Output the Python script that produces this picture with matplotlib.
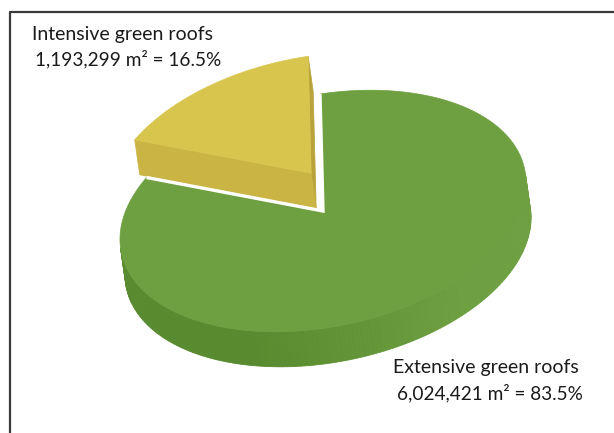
import numpy as np
import matplotlib.pyplot as plt
from matplotlib.patches import Polygon
from matplotlib.colors import to_rgb

# roof areas (m²)
labels = ["Extensive green roofs", "Intensive green roofs"]
areas = [6024421, 1193299]
top_colors = ["#6ea041", "#d8c54e"]
wall_colors = ["#588a2f", "#cab443"]
side_colors = ["#588a2f", "#b9a23a"]

# 3D pie layout (pixels): centre, projected x / y axes of the disk, wall offset
CX, CY = 323, 211
E1 = np.array([203.0, -30.0])
E2 = np.array([-3.0, -117.0])
WALL = np.array([5.0, 35.0])
EXPLODE = [(0.0, 0.0), (0.34 * np.cos(np.radians(99)), 0.34 * np.sin(np.radians(99)))]


def proj(x, y, d):
    p = x * E1 + y * E2 + d * WALL
    return CX + p[0], CY + p[1]


def area2(pts):
    pts = np.asarray(pts)
    x, y = pts[:, 0], pts[:, 1]
    return np.sum(x * np.roll(y, -1) - np.roll(x, -1) * y)


def shade(dark, light, x):
    # walls fade out towards the right hand side
    w = np.clip((x - 250) / 210.0, 0, 1)
    d, l = np.array(to_rgb(dark)), np.array(to_rgb(light))
    return tuple(d * (1 - w) + l * w)


def draw_slice(ax, t0, t1, off, top_c, wall_c, side_c, fade):
    ox, oy = off
    ts = np.linspace(t0, t1, 240)
    top = np.array([proj(ox + np.cos(t), oy + np.sin(t), 0) for t in ts])
    bot = np.array([proj(ox + np.cos(t), oy + np.sin(t), 1) for t in ts])
    c_top = proj(ox, oy, 0)
    c_bot = proj(ox, oy, 1)

    # radial cut faces: the one at t0 faces right, the one at t1 faces front
    for f, c in [([c_top, top[0], bot[0], c_bot], side_c),
                 ([top[-1], c_top, c_bot, bot[-1]], wall_c)]:
        if area2(f) > 0:
            ax.add_patch(Polygon(f, closed=True, fc=c, ec=c, lw=0.5))

    # outer rim wall, segment by segment
    for i in range(len(ts) - 1):
        q = [top[i], top[i + 1], bot[i + 1], bot[i]]
        if area2(q) > 0:
            c = shade(wall_c, top_c, top[i][0]) if fade else wall_c
            ax.add_patch(Polygon(q, closed=True, fc=c, ec=c, lw=0.6))

    ax.add_patch(Polygon(np.vstack([[c_top], top]), closed=True, fc=top_c, ec=top_c, lw=0.5))
    return top, c_top


fig = plt.figure(figsize=(6.14, 4.33), dpi=100)
ax = fig.add_axes([0, 0, 1, 1])
ax.set_xlim(0, 614)
ax.set_ylim(433, 0)
ax.axis("off")

frac = np.array(areas) / np.sum(areas)
# slices run clockwise from 12 o'clock
start = np.pi / 2
spans = []
for k in range(len(areas)):
    end = start - 2 * np.pi * frac[k]
    spans.append([end, start])
    start = end
# keep both spans inside the same turn, angles increasing
spans[0] = [spans[0][0] + 2 * np.pi, spans[0][1] + 2 * np.pi]
spans[1] = [spans[1][0] + 2 * np.pi, spans[1][1] + 2 * np.pi]
spans[1] = [spans[1][0] - 2 * np.pi, spans[1][1] - 2 * np.pi] if spans[1][0] > 2 * np.pi else spans[1]

# back slice first
draw_slice(ax, spans[1][0], spans[1][1], EXPLODE[1], top_colors[1], wall_colors[1], side_colors[1], False)
g_top, g_c = draw_slice(ax, spans[0][0], spans[0][1], EXPLODE[0], top_colors[0], wall_colors[0], side_colors[0], True)

# white border along the cut of the big slice
ax.plot([g_top[0][0], g_c[0], g_top[-1][0]], [g_top[0][1], g_c[1], g_top[-1][1]],
        color="white", lw=2.4, solid_joinstyle="miter", solid_capstyle="butt")

pct = np.round(frac * 100, 1)
name_font = dict(family="Lato", fontsize=14, color="#1a1a1a")
num_font = dict(family="Lato", fontsize=13.7, color="#1a1a1a")
ax.text(32, 40, labels[1], **name_font)
ax.text(35, 65, "{:,} m² = {}%".format(areas[1], pct[1]), **num_font)
ax.text(393, 373, labels[0], **name_font)
ax.text(397, 399, "{:,} m² = {}%".format(areas[0], pct[0]), **num_font)

ax.plot([10, 10, 614], [433, 12, 12], color="#3a3a3a", lw=1.6, solid_capstyle="butt")

fig.savefig("out.png", dpi=100)
